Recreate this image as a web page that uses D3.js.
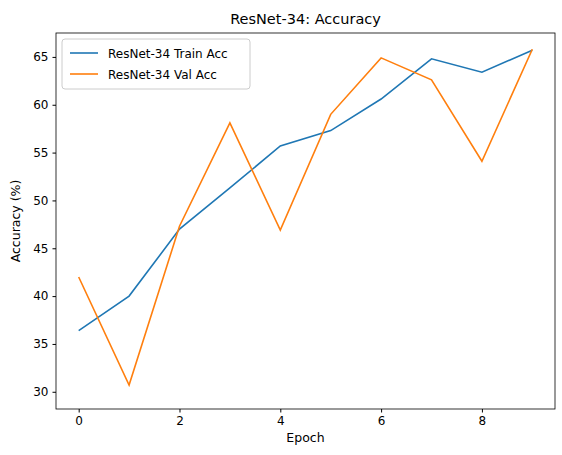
<!DOCTYPE html>
<html>
<head>
<meta charset="UTF-8">
<script src="https://cdnjs.cloudflare.com/ajax/libs/d3/7.8.5/d3.min.js"></script>
<style>
  body { margin: 0; background: white; }
  text { font-family: "DejaVu Sans", sans-serif; }
</style>
</head>
<body>
<svg id="chart" width="562" height="455"></svg>
<script>
var epochs = [0, 1, 2, 3, 4, 5, 6, 7, 8, 9];
var trainAcc = [36.4, 40.0, 47.0, 51.3, 55.7, 57.3, 60.6, 64.8, 63.4, 65.7];
var valAcc = [42.0, 30.7, 47.3, 58.1, 46.9, 59.0, 64.9, 62.6, 54.1, 65.8];
var xTicks = [0, 2, 4, 6, 8];
var yTicks = [30, 35, 40, 45, 50, 55, 60, 65];

var svg = d3.select("#chart");
var m = { left: 56, right: 7, top: 33, bottom: 46 };
var w = 562 - m.left - m.right, h = 455 - m.top - m.bottom;
var g = svg.append("g").attr("transform", "translate(" + m.left + "," + m.top + ")");

var x = d3.scaleLinear().domain([-0.45, 9.45]).range([0, w]);
var y = d3.scaleLinear().domain([28.2, 67.5]).range([h, 0]);

var xa = g.append("g").attr("transform", "translate(0," + h + ")")
  .call(d3.axisBottom(x).tickValues(xTicks).tickSize(3.5).tickPadding(4));
var ya = g.append("g").call(d3.axisLeft(y).tickValues(yTicks).tickSize(3.5).tickPadding(4));
[xa, ya].forEach(function(a) {
  a.selectAll("text").attr("font-size", 12).attr("fill", "#000");
  a.select(".domain").remove();
});

g.append("rect").attr("width", w).attr("height", h)
  .attr("fill", "none").attr("stroke", "#000").attr("stroke-width", 0.8);

var line = function(vals) {
  return d3.line().x(function(d, i) { return x(epochs[i]); }).y(function(d) { return y(d); })(vals);
};
g.append("path").attr("d", line(trainAcc)).attr("fill", "none").attr("stroke", "#1f77b4").attr("stroke-width", 1.6);
g.append("path").attr("d", line(valAcc)).attr("fill", "none").attr("stroke", "#ff7f0e").attr("stroke-width", 1.6);

svg.append("text").attr("x", m.left + w / 2).attr("y", 24).attr("text-anchor", "middle")
  .attr("font-size", 14.5).text("ResNet-34: Accuracy");
svg.append("text").attr("x", m.left + w / 2).attr("y", 442).attr("text-anchor", "middle")
  .attr("font-size", 12.5).text("Epoch");
svg.append("text").attr("transform", "translate(20," + (m.top + h / 2) + ") rotate(-90)")
  .attr("text-anchor", "middle").attr("font-size", 12.5).text("Accuracy (%)");

var lg = g.append("g").attr("transform", "translate(6,6)");
lg.append("rect").attr("width", 188).attr("height", 50).attr("rx", 3)
  .attr("fill", "white").attr("stroke", "#ccc");
var names = ["ResNet-34 Train Acc", "ResNet-34 Val Acc"];
var colors = ["#1f77b4", "#ff7f0e"];
names.forEach(function(n, i) {
  var yy = 14 + i * 21;
  lg.append("line").attr("x1", 8).attr("x2", 36).attr("y1", yy).attr("y2", yy)
    .attr("stroke", colors[i]).attr("stroke-width", 1.6);
  lg.append("text").attr("x", 46).attr("y", yy + 4.5).attr("font-size", 12).text(n);
});
</script>
</body>
</html>
